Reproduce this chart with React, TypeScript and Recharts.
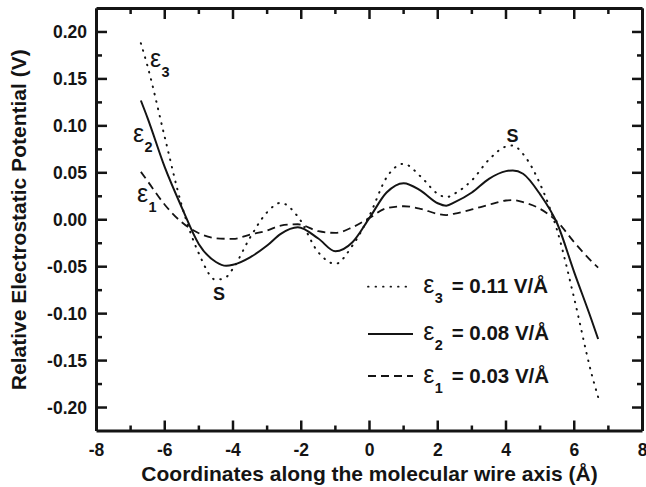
import { LineChart, Line, XAxis, YAxis, Legend, ReferenceDot } from "recharts";

// coordinate along wire axis (Å)
const xs = [-6.7, -6.5, -6, -5.5, -5, -4.5, -4.2, -4, -3.5, -3, -2.6, -2.1, -1.5, -1, -0.5, 0, 0.5, 1, 1.5, 2, 2.25, 2.5, 3, 3.5, 4, 4.2, 4.5, 5, 5.5, 6, 6.5, 6.7];

// potential (V) for each field strength
const eps3 = [0.188, 0.163, 0.088, 0.015, -0.036, -0.064, -0.061, -0.052, -0.019, 0.008, 0.018, 0.0034, -0.0347, -0.047, -0.0275, 0.0045, 0.045, 0.0596, 0.046, 0.0276, 0.024, 0.028, 0.042, 0.064, 0.078, 0.079, 0.07, 0.038, -0.0115, -0.084, -0.163, -0.189];
const eps2 = [0.127, 0.108, 0.056, 0.013, -0.026, -0.045, -0.049, -0.048, -0.04, -0.0275, -0.015, -0.008, -0.02, -0.0336, -0.024, 0.002, 0.029, 0.039, 0.031, 0.0176, 0.015, 0.0187, 0.029, 0.0436, 0.0518, 0.0525, 0.049, 0.027, -0.004, -0.056, -0.106, -0.127];
const eps1 = [0.051, 0.041, 0.016, -0.0027, -0.0144, -0.0197, -0.0203, -0.0204, -0.0158, -0.0115, -0.0062, -0.0048, -0.0122, -0.014, -0.008, 0.002, 0.0123, 0.0144, 0.0116, 0.0063, 0.005, 0.0066, 0.011, 0.016, 0.0205, 0.021, 0.0187, 0.0116, -0.002, -0.024, -0.044, -0.051];

const xMajorTicks = [-8, -6, -4, -2, 0, 2, 4, 6, 8];
const xMinorTicks = [-7, -5, -3, -1, 1, 3, 5, 7];
const xTickLabels = ["-8", "-6", "-4", "-2", "0", "2", "4", "6", "8"];
const yMajorTicks = [-0.2, -0.15, -0.1, -0.05, 0, 0.05, 0.1, 0.15, 0.2];
const yMinorTicks = [-0.175, -0.125, -0.075, -0.025, 0.025, 0.075, 0.125, 0.175];
const yTickLabels = ["-0.20", "-0.15", "-0.10", "-0.05", "0.00", "0.05", "0.10", "0.15", "0.20"];

const seriesSubs = ["3", "2", "1"];
const legendTexts = ["= 0.11 V/Å", "= 0.08 V/Å", "= 0.03 V/Å"];

// label anchors (data units)
const epsLabelX = [-6.43, -6.93, -6.81];
const epsLabelY = [0.163, 0.0827, 0.0187];
const sLabelX = [-4.41, 4.19];
const sLabelY = [-0.085, 0.083];

const data = xs.map((x, i) => ({ x, e3: eps3[i], e2: eps2[i], e1: eps1[i] }));

const INK = "#141414";
const FONT = "'Liberation Sans', Arial, sans-serif";
const DOTTED = "0.6 6.9";
const DASHED = "8 5";
const MAJOR = 10.5;
const MINOR = 5.5;
const TICK_FONT = 17.5;
const TITLE_FONT = 21;

const findIdx = (v: number, arr: number[]) => arr.findIndex((m) => Math.abs(m - v) < 1e-9);

function LeftTick({ x, y, payload }: any) {
  const idx = findIdx(payload.value, yMajorTicks);
  const major = idx >= 0;
  return (
    <g>
      <line x1={x} x2={x + (major ? MAJOR : MINOR)} y1={y} y2={y} stroke={INK} strokeWidth={2.5} />
      {major && (
        <text x={x - 9.5} y={y + 6.2} textAnchor="end" fontSize={TICK_FONT} fontWeight="bold" fill={INK} fontFamily={FONT}>
          {yTickLabels[idx]}
        </text>
      )}
    </g>
  );
}

function RightTick({ x, y, payload }: any) {
  const major = findIdx(payload.value, yMajorTicks) >= 0;
  return <line x1={x} x2={x - (major ? MAJOR : MINOR)} y1={y} y2={y} stroke={INK} strokeWidth={2.5} />;
}

function BottomTick({ x, y, payload }: any) {
  const idx = findIdx(payload.value, xMajorTicks);
  const major = idx >= 0;
  return (
    <g>
      <line x1={x} x2={x} y1={y} y2={y - (major ? MAJOR : MINOR)} stroke={INK} strokeWidth={2.5} />
      {major && (
        <text x={x} y={y + 25} textAnchor="middle" fontSize={TICK_FONT} fontWeight="bold" fill={INK} fontFamily={FONT}>
          {xTickLabels[idx]}
        </text>
      )}
    </g>
  );
}

function TopTick({ x, y, payload }: any) {
  const major = findIdx(payload.value, xMajorTicks) >= 0;
  return <line x1={x} x2={x} y1={y} y2={y + (major ? MAJOR : MINOR)} stroke={INK} strokeWidth={2.5} />;
}

function EpsText({ x, y, sub, epsSize = 25 }: { x: number; y: number; sub: string; epsSize?: number }) {
  return (
    <g fill={INK} fontFamily={FONT}>
      <text x={x} y={y} fontSize={epsSize}>ε</text>
      <text x={x + 11.5} y={y + 10} fontSize={14.5} fontWeight="bold">{sub}</text>
    </g>
  );
}

const ROW_BASE = [23.3, 70, 113.3];
const ROW_LINE = [16.7, 64, 106];
const ROW_DASH = [DOTTED, undefined, DASHED];

function renderLegend() {
  return (
    <svg width={220} height={125} style={{ display: "block", overflow: "visible" }}>
      {seriesSubs.map((sub, i) => (
        <g key={sub}>
          <line
            x1={8}
            x2={53}
            y1={ROW_LINE[i]}
            y2={ROW_LINE[i]}
            stroke={INK}
            strokeWidth={i === 1 ? 2 : 1.8}
            strokeDasharray={ROW_DASH[i]}
            strokeLinecap={i === 0 ? "round" : "butt"}
          />
          <EpsText x={63.3} y={ROW_BASE[i]} sub={sub} />
          <text x={91.7} y={ROW_BASE[i]} fontSize={20.5} fontWeight="bold" fill={INK} fontFamily={FONT}>
            {legendTexts[i]}
          </text>
        </g>
      ))}
    </svg>
  );
}

export default function App() {
  const axisLine = { stroke: INK, strokeWidth: 3 };
  return (
    <div style={{ position: "absolute", left: 0, top: 0, background: "#fff" }}>
      <LineChart width={646} height={487} data={data} margin={{ top: 0.5, right: 0.5, left: 0, bottom: 0 }} style={{ fontFamily: FONT }}>
        <XAxis
          dataKey="x"
          type="number"
          domain={[-8, 8]}
          ticks={[...xMajorTicks, ...xMinorTicks].sort((a, b) => a - b)}
          interval={0}
          height={56}
          tickSize={0}
          tickMargin={0}
          axisLine={axisLine}
          tickLine={false}
          tick={BottomTick}
          allowDataOverflow
          label={{
            content: ({ viewBox }: any) => (
              <text x={viewBox.x + viewBox.width / 2} y={viewBox.y + 49.5} textAnchor="middle" fontSize={TITLE_FONT} fontWeight="bold" fill={INK} fontFamily={FONT}>
                Coordinates along the molecular wire axis (Å)
              </text>
            ),
          }}
        />
        <XAxis
          xAxisId="top"
          orientation="top"
          dataKey="x"
          type="number"
          domain={[-8, 8]}
          ticks={[...xMajorTicks, ...xMinorTicks].sort((a, b) => a - b)}
          interval={0}
          height={8}
          tickSize={0}
          tickMargin={0}
          axisLine={axisLine}
          tickLine={false}
          tick={TopTick}
          allowDataOverflow
        />
        <YAxis
          type="number"
          domain={[-0.225, 0.225]}
          ticks={[...yMajorTicks, ...yMinorTicks].sort((a, b) => a - b)}
          interval={0}
          width={96.5}
          tickSize={0}
          tickMargin={0}
          axisLine={axisLine}
          tickLine={false}
          tick={LeftTick}
          allowDataOverflow
          label={{
            content: ({ viewBox }: any) => {
              const cx = viewBox.x + 25.5;
              const cy = viewBox.y + viewBox.height / 2;
              return (
                <text x={cx} y={cy} transform={`rotate(-90, ${cx}, ${cy})`} textAnchor="middle" fontSize={TITLE_FONT} fontWeight="bold" fill={INK} fontFamily={FONT}>
                  Relative Electrostatic Potential (V)
                </text>
              );
            },
          }}
        />
        <YAxis
          yAxisId="right"
          orientation="right"
          type="number"
          domain={[-0.225, 0.225]}
          ticks={[...yMajorTicks, ...yMinorTicks].sort((a, b) => a - b)}
          interval={0}
          width={3}
          tickSize={0}
          tickMargin={0}
          axisLine={axisLine}
          tickLine={false}
          tick={RightTick}
          allowDataOverflow
        />
        <Line type="monotone" dataKey="e3" stroke={INK} strokeWidth={2} strokeDasharray={DOTTED} strokeLinecap="round" dot={false} activeDot={false} isAnimationActive={false} />
        <Line type="monotone" dataKey="e2" stroke={INK} strokeWidth={2} dot={false} activeDot={false} isAnimationActive={false} />
        <Line type="monotone" dataKey="e1" stroke={INK} strokeWidth={1.8} strokeDasharray={DASHED} dot={false} activeDot={false} isAnimationActive={false} />
        {seriesSubs.map((sub, i) => (
          <ReferenceDot
            key={`eps${sub}`}
            x={epsLabelX[i]}
            y={epsLabelY[i]}
            r={0}
            stroke="none"
            fill="none"
            label={{ content: ({ viewBox }: any) => <EpsText x={viewBox.x} y={viewBox.y} sub={sub} /> }}
          />
        ))}
        {sLabelX.map((sx, i) => (
          <ReferenceDot
            key={`s${i}`}
            x={sx}
            y={sLabelY[i]}
            r={0}
            stroke="none"
            fill="none"
            label={{
              content: ({ viewBox }: any) => (
                <text x={viewBox.x} y={viewBox.y} textAnchor="middle" fontSize={18} fontWeight="bold" fill={INK} fontFamily={FONT}>
                  S
                </text>
              ),
            }}
          />
        ))}
        <Legend
          layout="vertical"
          align="center"
          verticalAlign="middle"
          wrapperStyle={{ position: "absolute", left: 360, top: 270, width: 220, height: 125 }}
          content={renderLegend}
        />
      </LineChart>
    </div>
  );
}
